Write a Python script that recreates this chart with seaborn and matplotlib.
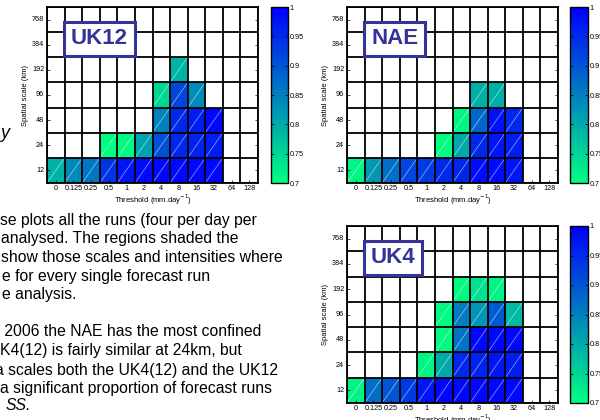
import numpy as np
import pandas as pd
import matplotlib
matplotlib.use("Agg")
import matplotlib.pyplot as plt
import seaborn as sns

plt.rcParams['font.family'] = ['Liberation Sans', 'DejaVu Sans']

thresholds = ["0", "0.125", "0.25", "0.5", "1", "2", "4", "8", "16", "32", "64", "128"]
scales = ["768", "384", "192", "96", "48", "24", "12"]  # top to bottom
n = np.nan

uk12_vals = [
    [n, n, n, n, n, n, n, n, n, n, n, n],
    [n, n, n, n, n, n, n, n, n, n, n, n],
    [n, n, n, n, n, n, n, 0.79, n, n, n, n],
    [n, n, n, n, n, n, 0.747, 0.918, 0.835, n, n, n],
    [n, n, n, n, n, n, 0.847, 0.953, 0.965, 0.99, n, n],
    [n, n, n, 0.70, 0.705, 0.81, 0.905, 0.953, 0.96, 0.965, n, n],
    [0.79, 0.84, 0.86, 0.94, 0.975, 0.985, 0.99, 0.99, 0.99, 0.99, n, n],
]
nae_vals = [
    [n, n, n, n, n, n, n, n, n, n, n, n],
    [n, n, n, n, n, n, n, n, n, n, n, n],
    [n, n, n, n, n, n, n, n, n, n, n, n],
    [n, n, n, n, n, n, n, 0.795, 0.795, n, n, n],
    [n, n, n, n, n, n, 0.712, 0.88, 0.98, 0.953, n, n],
    [n, n, n, n, n, 0.70, 0.80, 0.953, 0.976, 0.965, n, n],
    [0.712, 0.824, 0.87, 0.918, 0.93, 0.953, 0.955, 0.985, 0.985, 0.975, n, n],
]
uk4_vals = [
    [n, n, n, n, n, n, n, n, n, n, n, n],
    [n, n, n, n, n, n, n, n, n, n, n, n],
    [n, n, n, n, n, n, 0.706, 0.735, 0.712, n, n, n],
    [n, n, n, n, n, 0.706, 0.853, 0.824, 0.894, 0.782, n, n],
    [n, n, n, n, n, 0.706, 0.865, 0.99, 0.99, 0.99, n, n],
    [n, n, n, n, 0.712, 0.80, 0.953, 0.96, 0.975, 0.965, n, n],
    [0.712, 0.87, 0.90, 0.93, 0.976, 0.99, 0.99, 0.99, 0.99, 0.99, n, n],
]
cbar_ticks = [0.7, 0.75, 0.8, 0.85, 0.9, 0.95, 1.0]
cbar_labels = ["0.7", "0.75", "0.8", "0.85", "0.9", "0.95", "1"]

para1 = ["se plots all the runs (four per day per",
         "analysed. The regions shaded the",
         "show those scales and intensities where",
         "e for every single forecast run",
         "e analysis."]
para2 = [" 2006 the NAE has the most confined",
         "K4(12) is fairly similar at 24km, but",
         "a scales both the UK4(12) and the UK12",
         "a significant proportion of forecast runs"]
para2_last = "SS."

W, H = 600, 420
fig = plt.figure(figsize=(6, 4.2), dpi=100)

def fx(px):
    return px / W

def fy(py):
    return 1 - py / H

panels = [
    ("UK12", uk12_vals, 47, 258, 7, 183, 271, 288),
    ("NAE", nae_vals, 347, 558, 7, 183, 570, 588),
    ("UK4", uk4_vals, 347, 558, 226, 403, 570, 588),
]

label_col = "#33339a"
for name, vals, x0, x1, y0, y1, cx0, cx1 in panels:
    ax = fig.add_axes([fx(x0), fy(y1), fx(x1 - x0), (y1 - y0) / H])
    cax = fig.add_axes([fx(cx0), fy(y1), fx(cx1 - cx0), (y1 - y0) / H])
    df = pd.DataFrame(vals, index=scales, columns=thresholds)
    sns.heatmap(df, ax=ax, cbar_ax=cax, cmap="winter_r", vmin=0.7, vmax=1.0,
                linewidths=0, cbar_kws={"ticks": cbar_ticks})
    nr, nc = df.shape
    for r in range(nr):
        for c in range(nc):
            if not np.isnan(df.iat[r, c]):
                ax.plot([c, c + 1], [r + 1, r], color="white", lw=0.5,
                        alpha=0.6, solid_capstyle="butt")
    for r in range(nr + 1):
        ax.axhline(r, color="black", lw=1.3)
    for c in range(nc + 1):
        ax.axvline(c, color="black", lw=1.3)
    for s in ax.spines.values():
        s.set_visible(True)
        s.set_color("black")
        s.set_linewidth(1.3)
    ax.tick_params(axis="both", direction="in", length=2, width=0.5,
                   labelsize=5.2, pad=2, right=True, top=False)
    ax.tick_params(axis="x", pad=1.5)
    ax.set_yticklabels(scales, rotation=0)
    ax.set_xticklabels(thresholds, rotation=0)
    ax.set_xlabel("Threshold (mm.day$^{-1}$)", fontsize=5.5, labelpad=0.3)
    ax.set_ylabel("Spatial scale (km)", fontsize=5.5, labelpad=2)
    ax.text(0.114, 0.82, name, transform=ax.transAxes, fontsize=16,
            fontweight="bold", color=label_col, ha="left", va="center",
            zorder=10,
            bbox=dict(boxstyle="square,pad=0.3", fc="white", ec=label_col, lw=2.2))
    cbar = ax.collections[0].colorbar
    cbar.set_ticks(cbar_ticks)
    cbar.set_ticklabels(cbar_labels)
    cbar.outline.set_edgecolor("black")
    cbar.outline.set_linewidth(1.0)
    cax.tick_params(direction="in", length=2, width=0.5, labelsize=5.2,
                    left=True, right=True, pad=1)

# partial slide text on the left
fs = 11.35
fig.text(fx(0), fy(133), "y", fontsize=13, style="italic", va="center", ha="left")
p1_y = [220, 238, 257, 276, 294]
p1_x = [0, 1, 1, 2, 2]
for t, yy, xx in zip(para1, p1_y, p1_x):
    fig.text(fx(xx), fy(yy), t, fontsize=fs, va="center", ha="left")
p2_y = [332, 351, 370, 388]
p2_x = [0, 0, -5, 0.5]
for t, yy, xx in zip(para2, p2_y, p2_x):
    fig.text(fx(xx), fy(yy), t, fontsize=fs, va="center", ha="left")
fig.text(fx(6), fy(406), para2_last, fontsize=fs, style="italic", va="center", ha="left")

fig.savefig("out.png", dpi=100, facecolor="white")
